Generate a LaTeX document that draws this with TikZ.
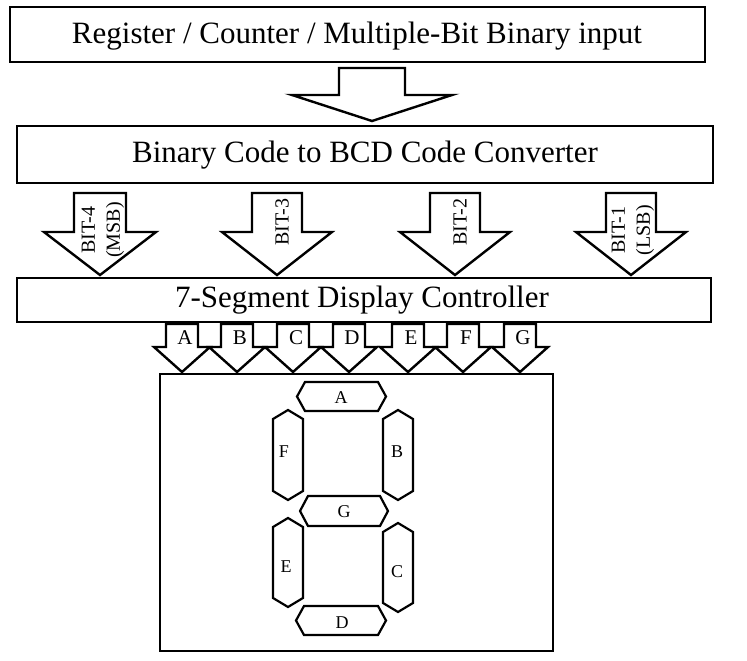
\documentclass[tikz,border=0pt]{standalone}
\usepackage{fontspec}
\setmainfont{Liberation Serif}
\tikzset{
  box/.style={draw, line width=2.6pt, inner sep=0pt},
  blk/.style={draw, line width=2.4pt, fill=white, line join=miter},
  seg/.style={draw, line width=2.2pt, line join=miter},
  lbl/.style={inner sep=0pt, font=\fontsize{20}{25}\selectfont},
  big/.style={inner sep=0pt, font=\fontsize{31}{31}\selectfont},
}
\newcommand{\barrow}[7]{% cx, top, shaft half, head half, head top, tip y, name
  \draw[blk] (#1-#3,#2) -- (#1+#3,#2) -- (#1+#3,#5) -- (#1+#4,#5) -- (#1,#6) -- (#1-#4,#5) -- (#1-#3,#5) -- cycle;
  \coordinate (#7) at (#1,#6);
}
\newcommand{\hseg}[5]{% x1,x2,ytop,ybot,bevel
  \draw[seg] (#1,{(#3+#4)/2}) -- (#1+#5,#3) -- (#2-#5,#3) -- (#2,{(#3+#4)/2}) -- (#2-#5,#4) -- (#1+#5,#4) -- cycle;
}
\newcommand{\vseg}[5]{% y1,y2,xl,xr,bevel
  \draw[seg] ({(#3+#4)/2},#1) -- (#4,#1+#5) -- (#4,#2-#5) -- ({(#3+#4)/2},#2) -- (#3,#2-#5) -- (#3,#1+#5) -- cycle;
}
\begin{document}
\begin{tikzpicture}[x=1pt,y=-1pt]
\useasboundingbox (0,0) rectangle (747,661);
% boxes
\draw[box] (10,7) rectangle (705,62);
\node[big] (reg) at (357,36) {Register / Counter / Multiple-Bit Binary input};
\draw[box] (17,126) rectangle (713,183);
\node[big] (conv) at (365,155) {Binary Code to BCD Code Converter};
\draw[box] (17,278) rectangle (711,322);
\node[big] (ctrl) at (362,300) {7-Segment Display Controller};
% big arrow
\barrow{372}{68}{33}{80}{95}{121}{bigtip}
% bit arrows
\barrow{100}{193}{26}{56}{232}{275}{b4}
\barrow{277}{193}{25}{55}{232}{275}{b3}
\barrow{455}{193}{25}{55}{232}{275}{b2}
\barrow{631}{193}{25}{55}{232}{275}{b1}
\node[lbl, rotate=90, align=center] (t4) at (103,230) {BIT-4\\(MSB)};
\node[lbl, rotate=90] (t3) at (282,222) {BIT-3};
\node[lbl, rotate=90] (t2) at (460,222) {BIT-2};
\node[lbl, rotate=90, align=center] (t1) at (633,230) {BIT-1\\(LSB)};
% small arrows
\foreach \x/\l in {182/A,237/B,293/C,349/D,408/E,463/F,520/G}{
  \barrow{\x}{324}{16}{28}{347}{372}{s\l}
  \node[inner sep=0pt, font=\fontsize{21}{21}\selectfont] (l\l) at (\x+3,338) {\l};
}
% display
\draw[box] (160,374) rectangle (553,651);
\hseg{297}{386}{382}{411}{8}
\vseg{410}{500}{273}{303}{9}
\vseg{410}{500}{383}{413}{9}
\hseg{300}{388}{496}{526}{8}
\vseg{518}{607}{273}{303}{9}
\vseg{523}{612}{383}{413}{9}
\hseg{296}{386}{606}{635}{8}
\tikzset{sl/.style={inner sep=0pt, font=\fontsize{18}{18}\selectfont}}
\node[sl] (sa) at (341,398) {A};
\node[sl] (sf) at (284,452) {F};
\node[sl] (sb) at (397,452) {B};
\node[sl] (sg) at (344,512) {G};
\node[sl] (se) at (286,567) {E};
\node[sl] (sc) at (397,572) {C};
\node[sl] (sd) at (342,623) {D};
\end{tikzpicture}
\end{document}
